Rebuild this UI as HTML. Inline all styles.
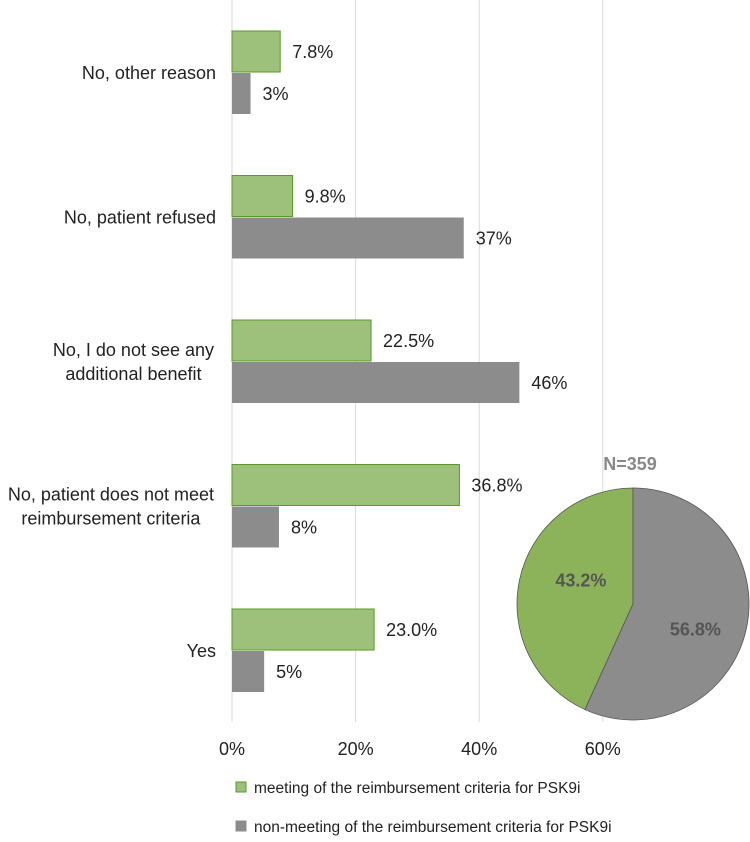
<!DOCTYPE html>
<html><head><meta charset="utf-8"><style>
body{margin:0;background:#fff;font-family:"Liberation Sans",sans-serif}
</style></head><body>
<svg id="c" width="750" height="837" xmlns="http://www.w3.org/2000/svg"></svg>
<script>
const categories=["No, other reason","No, patient refused","No, I do not see any|additional benefit","No, patient does not meet|reimbursement criteria","Yes"];
const meetingValues=[7.8,9.8,22.5,36.8,23.0];
const meetingLabels=["7.8%","9.8%","22.5%","36.8%","23.0%"];
const nonMeetingValues=[3,37.5,46.5,7.6,5.2];
const nonMeetingLabels=["3%","37%","46%","8%","5%"];
const ticks=[0,20,40,60];
const pieValues=[43.2,56.8];
const pieLabels=["43.2%","56.8%"];
const svg=document.getElementById('c');const NS="http://www.w3.org/2000/svg";
function mk(t,a,p){const e=document.createElementNS(NS,t);for(const k in a)e.setAttribute(k,a[k]);(p||svg).appendChild(e);return e;}
const x=v=>232+v*6.18;
const rowTop=i=>31+i*144.5;
ticks.forEach(t=>{
 const l=mk('line',{x1:x(t),x2:x(t),y1:0,y2:722,stroke:'#d9d9d9','stroke-width':1});
 
 
 const tx=mk('text',{x:x(t),y:755,'text-anchor':'middle','font-size':18,fill:'#222'});tx.textContent=t+'%';
 
 
});
categories.forEach((c,i)=>{
 const y=rowTop(i);
 const g=mk('rect',{x:232,y:y,width:x(meetingValues[i])-232,height:41,fill:'#9dc07a',stroke:'#5a9a2a','stroke-width':1});
 
 
 const gr=mk('rect',{x:232,y:y+42,width:x(nonMeetingValues[i])-232,height:41,fill:'#8c8c8c'});
 
 
 const t1=mk('text',{x:x(meetingValues[i])+12,y:y+27,'font-size':18,fill:'#222'});t1.textContent=meetingLabels[i];
 
 
 const t2=mk('text',{x:x(nonMeetingValues[i])+12,y:y+69,'font-size':18,fill:'#222'});t2.textContent=nonMeetingLabels[i];
 
 
 const parts=c.split('|');
 const els=parts.map((p,j)=>{
  const ty=y+48+(j-(parts.length-1)/2)*24;
  const ct=mk('text',{x:216,y:ty,'text-anchor':'end','font-size':18,fill:'#222'});ct.textContent=p;
  
  
  return ct;
 });
 if(els.length>1){
  const w=Math.max(...els.map(e=>e.getComputedTextLength()));
  els.forEach(e=>{e.setAttribute('text-anchor','middle');e.setAttribute('x',214-w/2);});
 }
});
const cx=633,cy=604,r=116;
const cols=['#8db35a','#8c8c8c'];
function pt(ang){return [cx+r*Math.sin(ang),cy-r*Math.cos(ang)];}
pieValues.forEach((v,i)=>{
 const sweep=v/100*2*Math.PI;
 let s,e;
 if(i===0){s=-sweep;e=0;}else{s=0;e=sweep;}
 const p1=pt(s),p2=pt(e);
 const path=mk('path',{d:`M${cx},${cy} L${p1[0]},${p1[1]} A${r},${r} 0 ${sweep>Math.PI?1:0} 1 ${p2[0]},${p2[1]} Z`,fill:cols[i],stroke:'#555','stroke-width':0.8});
 
 
 const mid=(s+e)/2;const f=i===0?0.46:0.55;
 const lp=[cx+r*f*Math.sin(mid),cy-r*f*Math.cos(mid)+(i===0?-13:11)];
 const t=mk('text',{x:lp[0],y:lp[1]+7,'text-anchor':'middle','font-size':18,'font-weight':'bold',fill:'#555'});t.textContent=pieLabels[i];
 
 
});
const n=mk('text',{x:630,y:470,'text-anchor':'middle','font-size':18,'font-weight':'bold',fill:'#888'});n.textContent='N=359';


[['#9dc07a','#5a9a2a','meeting of the reimbursement criteria for PSK9i',787],['#8c8c8c','#8c8c8c','non-meeting of the reimbursement criteria for PSK9i',826]].forEach((l,i)=>{
 const r2=mk('rect',{x:236,y:l[3]-5,width:10,height:10,fill:l[0],stroke:l[1]});
 
 
 const t=mk('text',{x:254,y:l[3]+6,'font-size':15.5,fill:'#222'});t.textContent=l[2];
 
 
});
</script>
</body></html>
